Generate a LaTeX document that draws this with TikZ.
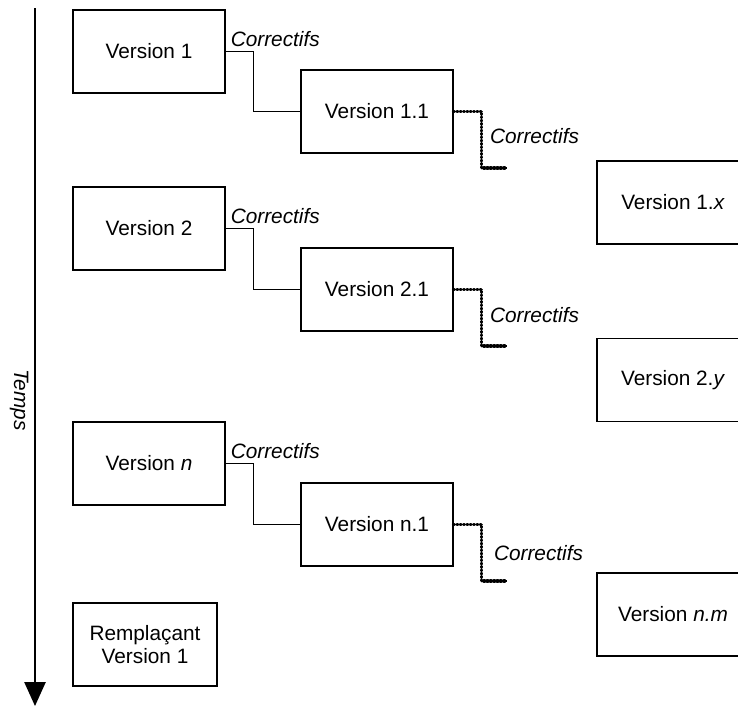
\documentclass[tikz,border=0pt]{standalone}
\usepackage{fontspec}
\setmainfont{Liberation Sans}
\usepackage{tikz}
\usetikzlibrary{arrows.meta}

\begin{document}
\begin{tikzpicture}[x=0.75pt, y=-0.75pt,
    font=\fontsize{15.6}{17.5}\selectfont,
    boite/.style={draw, line width=0.9pt, minimum width=114pt, minimum height=62.25pt, align=center},
    correctif/.style={line width=0.8pt},
    suite/.style={line width=2.6pt, line cap=round, dash pattern=on 0.6pt off 1.9pt,
        preaction={draw, solid, line width=1.2pt}},
    etiquette/.style={font=\fontsize{15.6}{17.5}\selectfont\itshape}]
            \useasboundingbox (0,0) rectangle (738,707);
            \clip (0,0) rectangle (738,707);

            % Time axis
            \coordinate (haut) at (35,8);
            \coordinate (bas) at (35,706);
            \draw [line width=1.1pt, -{Triangle[length=18pt, width=16pt]}] (haut) -- (bas);
            \node [etiquette, rotate=-90] (temps) at (19,400) {Temps};

            % Versions
            \node [boite] (v1) at (149,51.5) {Version 1};
            \node [boite] (v11) at (377,111.5) {Version 1.1};
            \node [boite] (v1x) at (673,202.5) {Version 1.\textit{x}};

            \node [boite] (v2) at (149,228.5) {Version 2};
            \node [boite] (v21) at (377,289.5) {Version 2.1};
            \node [boite] (v2y) at (673,380) {Version 2.\textit{y}};

            \node [boite] (vn) at (149,463.5) {Version \textit{n}};
            \node [boite] (vn1) at (377,524.5) {Version n.1};
            \node [boite] (vnm) at (673,614.5) {Version \textit{n.m}};

            \node [boite, minimum width=108pt] (remp) at (145,644.5) {Rempla\c{c}ant\\Version 1};

            % Patches (solid)
            \draw [correctif] (v1.east) node[etiquette, anchor=south west, inner sep=3.5pt] (c1) {Correctifs}
                -- ++(28,0) |- (v11.west);
            \draw [correctif] (v2.east) node[etiquette, anchor=south west, inner sep=3.5pt] (c2) {Correctifs}
                -- ++(28,0) |- (v21.west);
            \draw [correctif] (vn.east) node[etiquette, anchor=south west, inner sep=3.5pt] (c3) {Correctifs}
                -- ++(28,0) |- (vn1.west);

            % Further patches (dotted)
            \coordinate (f1) at (507,168);
            \coordinate (f2) at (507,346);
            \coordinate (f3) at (507,581);
            \draw [suite] (v11.east) -- ++(28,0) coordinate (k1) -- (k1 |- f1)
                node[etiquette, midway, anchor=west, inner sep=5pt, yshift=3pt] (d1) {Correctifs} -- (f1);
            \draw [suite] (v21.east) -- ++(28,0) coordinate (k2) -- (k2 |- f2)
                node[etiquette, midway, anchor=west, inner sep=5pt, yshift=2pt] (d2) {Correctifs} -- (f2);
            \draw [suite] (vn1.east) -- ++(28,0) coordinate (k3) -- (k3 |- f3)
                node[etiquette, midway, anchor=west, inner sep=8pt, yshift=0pt] (d3) {Correctifs} -- (f3);
        \end{tikzpicture}
\end{document}
